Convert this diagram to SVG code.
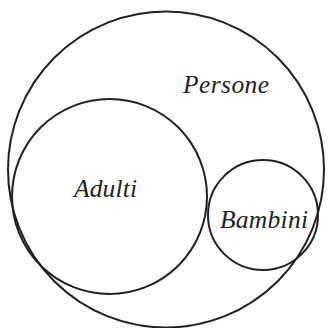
<svg xmlns="http://www.w3.org/2000/svg" width="330" height="328" viewBox="0 0 330 328">
<style>
.c{fill:none;stroke:#231f20;stroke-width:2}
.t{font-family:"Liberation Serif",serif;font-style:italic;font-size:25.5px;fill:#231f20}
</style>
<rect width="330" height="328" fill="#fff"/>
<g id="persone"><circle class="c" cx="166" cy="169.5" r="158"/><text class="t" x="183" y="93" textLength="86">Persone</text></g>
<g id="adulti"><circle class="c" cx="109.5" cy="196.5" r="97.5"/><text class="t" x="74" y="197" textLength="63">Adulti</text></g>
<g id="bambini"><circle class="c" cx="263" cy="215" r="55"/><text class="t" x="220" y="228" textLength="88">Bambini</text></g>
</svg>
